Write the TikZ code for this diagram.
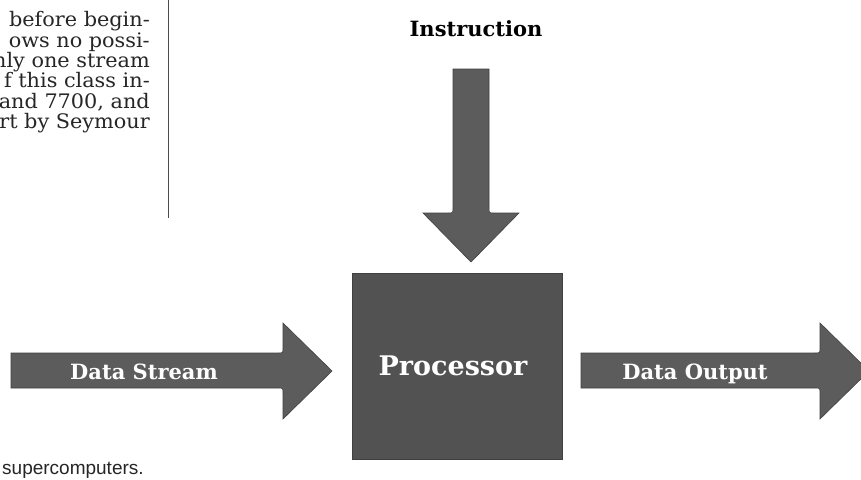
\documentclass[tikz,border=0pt]{standalone}
\usepackage{fontspec}
\usepackage{xcolor}
\setmainfont{DejaVu Serif}
\newfontfamily\capfont{Liberation Sans}
\newfontfamily\colfont[FakeStretch=1.04]{DejaVu Serif}
\usepackage{tikz}

\definecolor{screen}{gray}{0.36}
\definecolor{screendark}{gray}{0.32}

\tikzset{
  coltext/.style={anchor=base east, inner sep=0pt, text=black!85, font=\colfont\fontsize{20}{20}\selectfont},
  blocklabel/.style={inner sep=0pt, text=white, font=\bfseries\fontsize{21}{22}\selectfont},
  arrowfill/.style={fill=screen, draw=black!75, line width=0.6pt},
}

\begin{document}
\begin{tikzpicture}[x=1pt, y=-1pt]

\useasboundingbox (0,0) rectangle (861,479);
\clip (0,0) rectangle (861,479);
\fill[white] (0,0) rectangle (861,479);

\node[coltext] (l1) at (150,27) {before begin-};
\node[coltext] (l2) at (150,47) {ows no possi-};
\node[coltext] (l3) at (150,67) {nly one stream};
\node[coltext] (l4) at (150,87) {f this class in-};
\node[coltext] (l5) at (150,108) {and 7700, and};
\node[coltext] (l6) at (150,128) {rt by Seymour};

\draw[black!70, line width=0.7pt] (168,0) -- (168,218);

\node[anchor=base west, inner sep=0pt, text=black!85, font=\capfont\fontsize{19}{20}\selectfont] (cap) at (2,474) {supercomputers.};

\node[anchor=base, inner sep=0pt, font=\bfseries\fontsize{21}{22}\selectfont] (instr) at (476,36) {Instruction};

\filldraw[arrowfill] (453,69) -- (489,69) -- (489,208) .. controls (489,213) .. (494,213) -- (519,213) -- (471,262) -- (423,213) -- (448,213) .. controls (453,213) .. (453,208) -- cycle;

\filldraw[arrowfill] (11,353) -- (278,353) .. controls (283,353) .. (283,348) -- (283,323) -- (332,371) -- (283,419) -- (283,393) .. controls (283,388) .. (278,388) -- (11,388) -- cycle;

\filldraw[arrowfill] (581,353) -- (815,353) .. controls (820,353) .. (820,348) -- (820,323) -- (869,371) -- (820,419) -- (820,393) .. controls (820,388) .. (815,388) -- (581,388) -- cycle;

\node[fill=screendark, draw=black!75, line width=0.6pt, minimum width=210pt, minimum height=186pt, inner sep=0pt] (proc) at (457,366) {};
\node[inner sep=0pt, text=white, font=\bfseries\fontsize{27}{28}\selectfont] (proclabel) at (453,366) {Processor};

\node[blocklabel, anchor=base east] (stream) at (218,379) {Data Stream};
\node[blocklabel, anchor=base] (output) at (695,379) {Data Output};

\end{tikzpicture}
\end{document}
